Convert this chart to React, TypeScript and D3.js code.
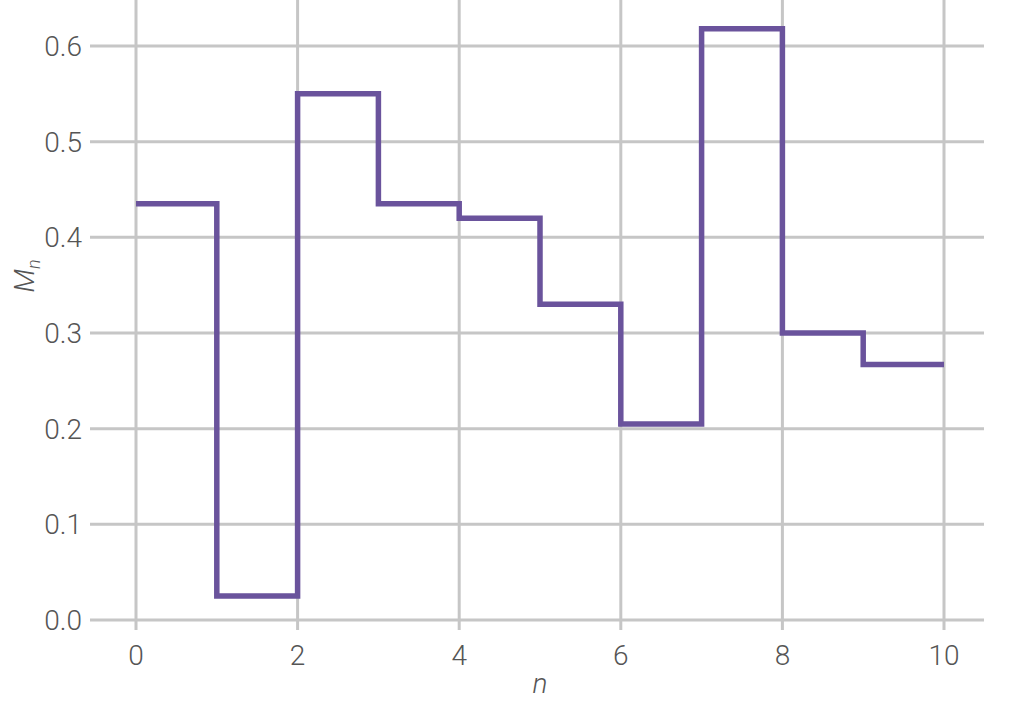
import React from 'react';
import * as d3 from 'd3';

// step values M_n for n = 0..9 (each held until n+1)
const nValues: number[] = [0, 1, 2, 3, 4, 5, 6, 7, 8, 9];
const mValues: number[] = [0.435, 0.025, 0.55, 0.435, 0.42, 0.33, 0.205, 0.618, 0.3, 0.267];
const xTicks: number[] = [0, 2, 4, 6, 8, 10];
const yTicks: number[] = [0, 0.1, 0.2, 0.3, 0.4, 0.5, 0.6];

const width = 1011;
const height = 728;

let x_scale = d3.scaleLinear().domain([0, 10]).range([136, 944]);
let y_scale = d3.scaleLinear().domain([0, 0.6]).range([620, 46]);

const fontFamily = "Roboto, 'Liberation Sans', sans-serif";

export default function App() {
  const points: [number, number][] = nValues.map((n, i) => [n, mValues[i]]);
  points.push([10, mValues[mValues.length - 1]]);

  const line = d3.line<[number, number]>()
    .x(d => x_scale(d[0]))
    .y(d => y_scale(d[1]))
    .curve(d3.curveStepAfter);

  const gridColor = "#c6c6c6";
  const textColor = "#555";

  return (
    <svg width={width} height={height} style={{ position: 'absolute', left: 0, top: 0 }}>
      <rect x={0} y={0} width={width} height={height} fill="white" />
      {xTicks.map(t => (
        <line key={'vx' + t} x1={x_scale(t)} x2={x_scale(t)} y1={0} y2={630}
          stroke={gridColor} strokeWidth={3} />
      ))}
      {yTicks.map(t => (
        <line key={'hy' + t} x1={90} x2={984} y1={y_scale(t)} y2={y_scale(t)}
          stroke={gridColor} strokeWidth={3} />
      ))}
      <path d={line(points) || ''} fill="none" stroke="#6a539c" strokeWidth={5.5}
        strokeLinejoin="miter" strokeLinecap="butt" />
      {yTicks.map(t => (
        <text key={'ly' + t} x={82} y={y_scale(t)} dy="0.36em" textAnchor="end"
          fontFamily={fontFamily} fontWeight={300} fontSize={28} fill={textColor}>
          {d3.format('.1f')(t)}
        </text>
      ))}
      {xTicks.map(t => (
        <text key={'lx' + t} x={x_scale(t)} y={665} textAnchor="middle"
          fontFamily={fontFamily} fontWeight={300} fontSize={28} fill={textColor}>
          {t}
        </text>
      ))}
      <text x={540} y={693} textAnchor="middle" fontFamily={fontFamily} fontWeight={300}
        fontStyle="italic" fontSize={28} fill={textColor}>n</text>
      <text transform="translate(34,276) rotate(-90)" textAnchor="middle" fontFamily={fontFamily}
        fontWeight={300} fontStyle="italic" fontSize={28} fill={textColor}>
        M<tspan fontSize={18} dy={6}>n</tspan>
      </text>
    </svg>
  );
}
